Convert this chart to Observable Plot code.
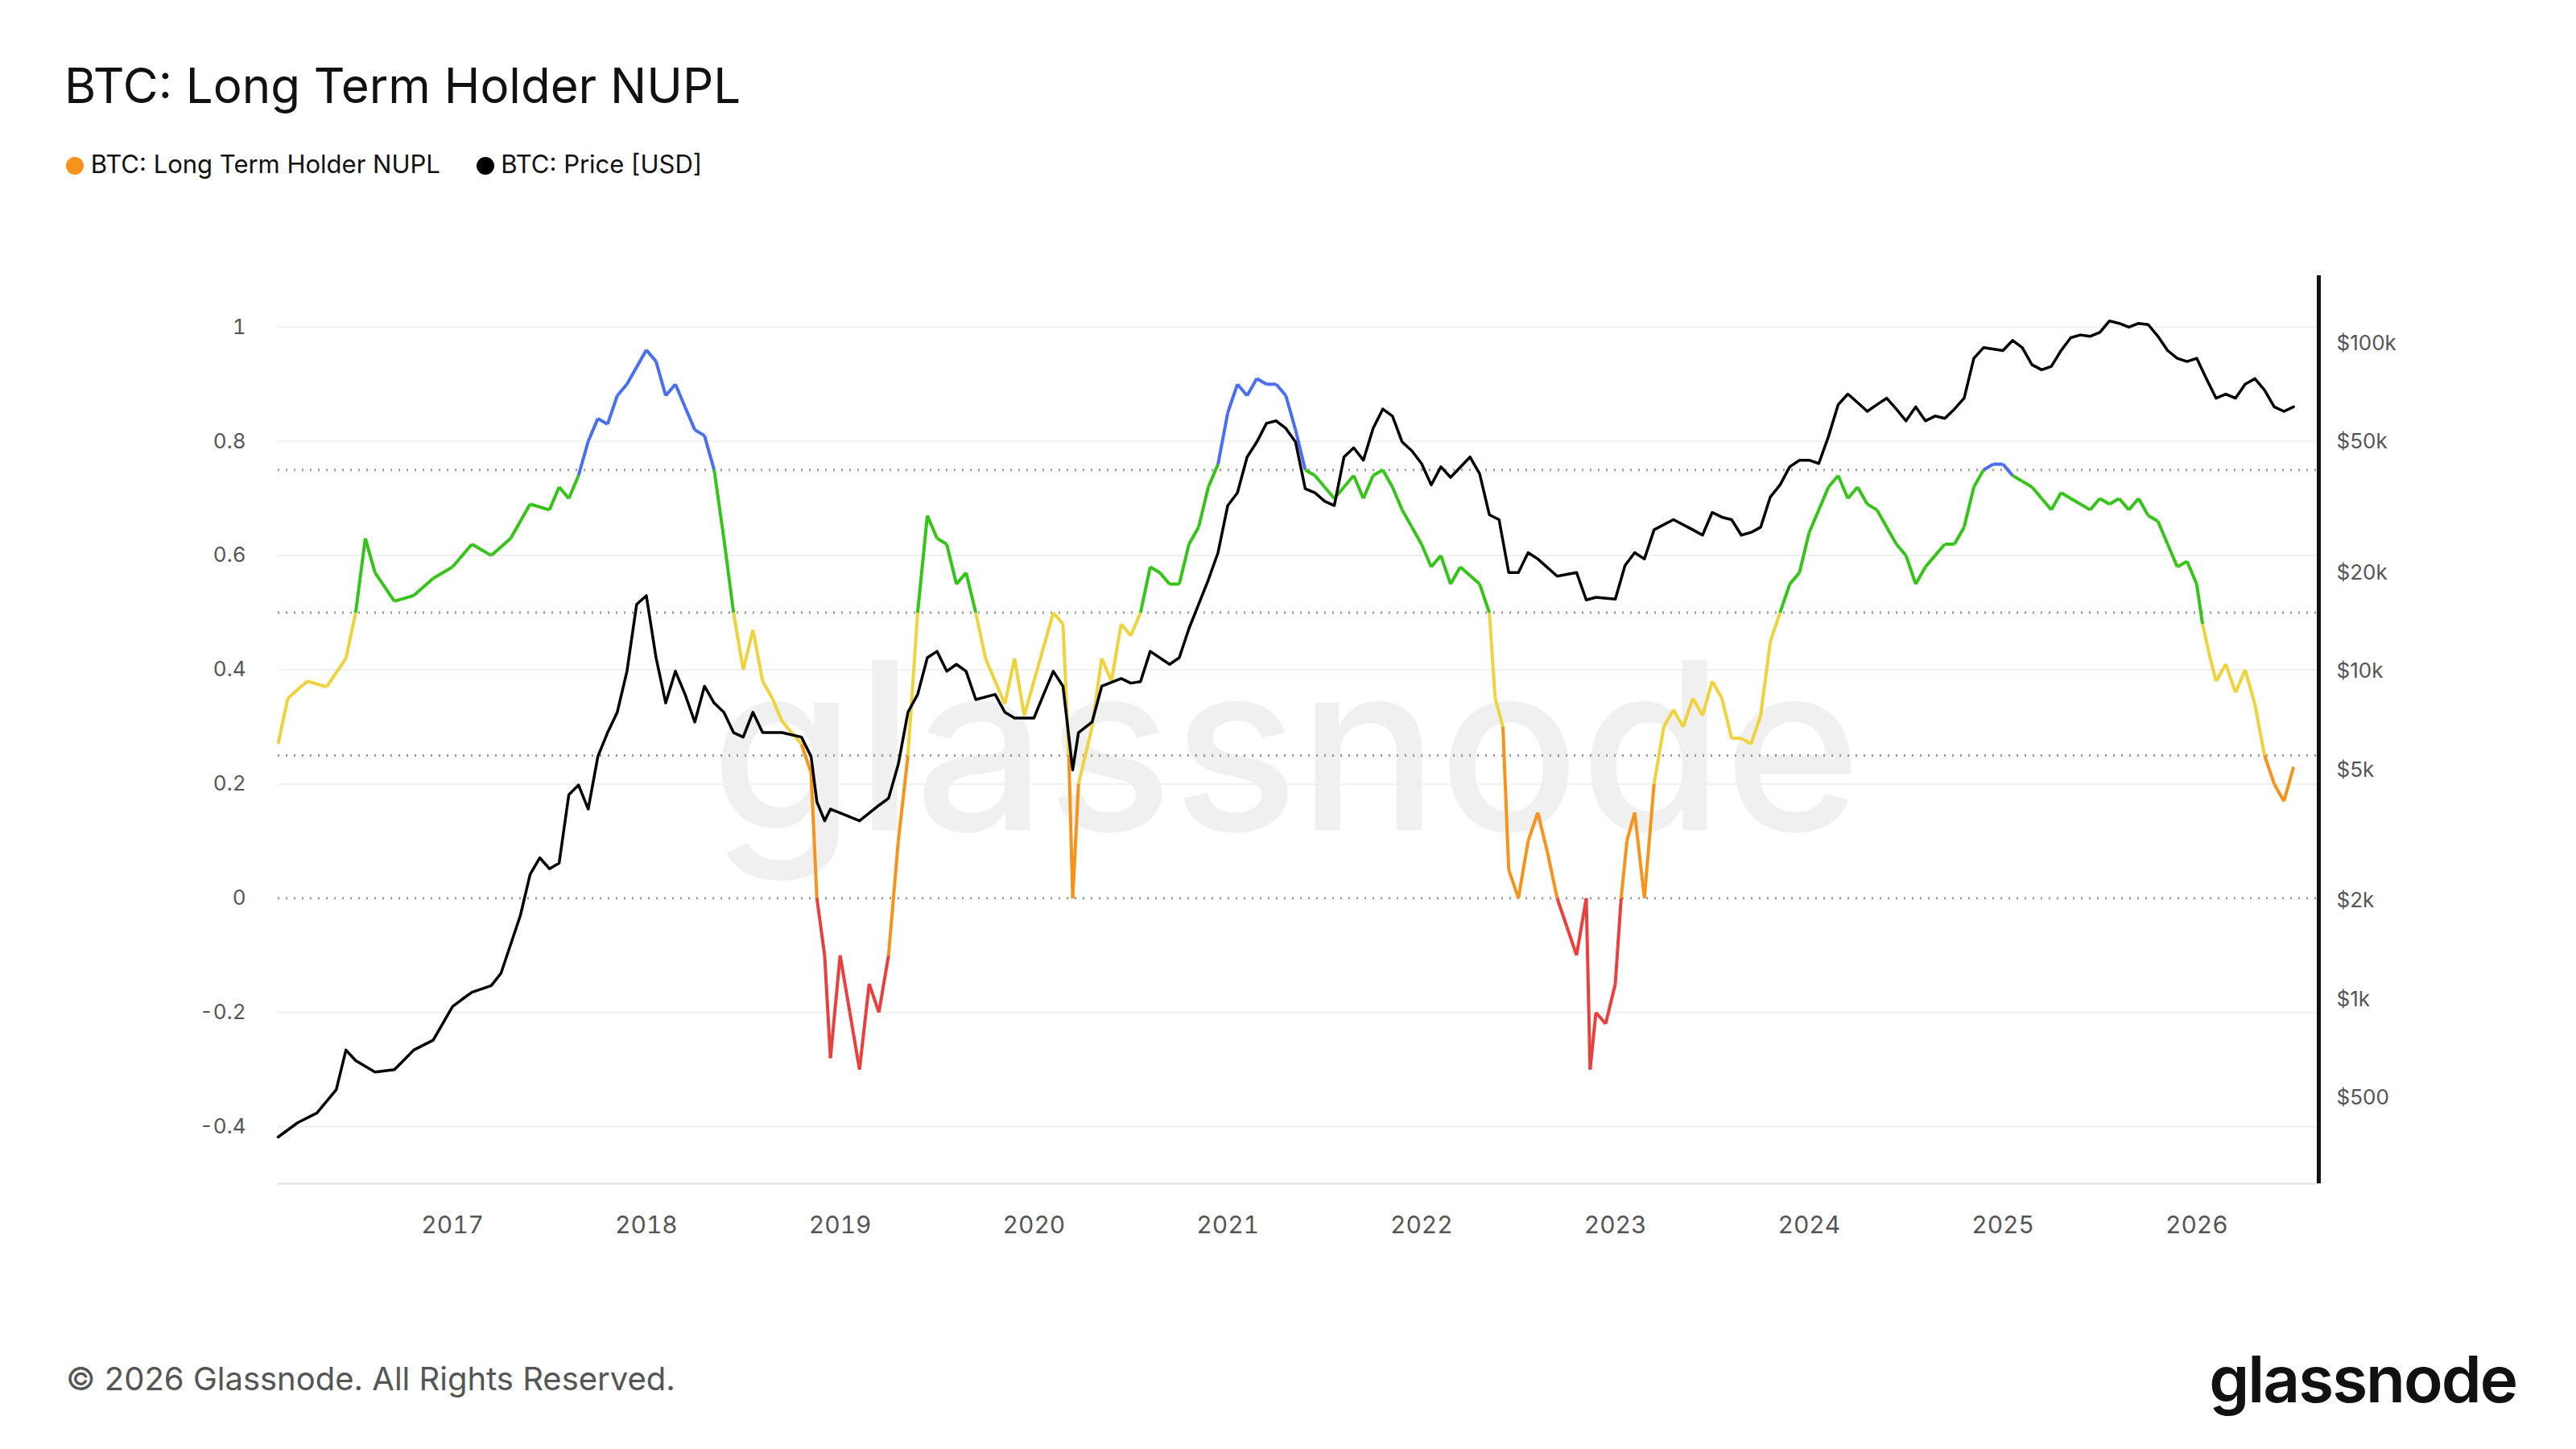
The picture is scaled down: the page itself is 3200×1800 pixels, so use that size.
<!DOCTYPE html>
<html><head><meta charset="utf-8">
<script src="https://cdn.jsdelivr.net/npm/d3@7"></script>
<script src="https://cdn.jsdelivr.net/npm/@observablehq/plot@0.6"></script>
<style>
body{margin:0;background:#fff;font-family:Inter,"Noto Sans",sans-serif;}
#wrap{position:relative;width:3200px;height:1800px;overflow:hidden}
.abs{position:absolute;white-space:nowrap}
svg{position:absolute;left:0;top:0}
</style></head><body><div id="wrap">
<div class="abs" style="left:80px;top:70px;font-size:60px;color:#111">BTC: Long Term Holder NUPL</div>
<div class="abs" style="left:82px;top:185px;font-size:31px;color:#111">
<span style="display:inline-block;width:22px;height:22px;border-radius:50%;background:#f7931a;vertical-align:-2px"></span> BTC: Long Term Holder NUPL
<span style="display:inline-block;width:22px;height:22px;border-radius:50%;background:#000;vertical-align:-2px;margin-left:36px"></span> BTC: Price [USD]</div>
<div class="abs" style="left:82px;top:1688px;font-size:40px;color:#555">© 2026 Glassnode. All Rights Reserved.</div>
<div class="abs" style="right:74px;top:1664px;font-size:80px;font-weight:600;color:#111;letter-spacing:-2px">glassnode</div>
</div>
<script>
const nuplT=[2016.1,2016.15,2016.25,2016.35,2016.45,2016.5,2016.55,2016.6,2016.7,2016.8,2016.9,2017.0,2017.1,2017.2,2017.3,2017.4,2017.5,2017.55,2017.6,2017.65,2017.7,2017.75,2017.8,2017.85,2017.9,2017.95,2018.0,2018.05,2018.1,2018.15,2018.2,2018.25,2018.3,2018.35,2018.4,2018.45,2018.5,2018.55,2018.6,2018.65,2018.7,2018.75,2018.8,2018.85,2018.88,2018.92,2018.95,2019.0,2019.05,2019.1,2019.15,2019.2,2019.25,2019.3,2019.35,2019.4,2019.45,2019.5,2019.55,2019.6,2019.65,2019.7,2019.75,2019.8,2019.85,2019.9,2019.95,2020.0,2020.1,2020.15,2020.18,2020.2,2020.23,2020.3,2020.35,2020.4,2020.45,2020.5,2020.55,2020.6,2020.65,2020.7,2020.75,2020.8,2020.85,2020.9,2020.95,2021.0,2021.05,2021.1,2021.15,2021.2,2021.25,2021.3,2021.35,2021.4,2021.45,2021.5,2021.55,2021.6,2021.65,2021.7,2021.75,2021.8,2021.85,2021.9,2021.95,2022.0,2022.05,2022.1,2022.15,2022.2,2022.3,2022.35,2022.38,2022.42,2022.45,2022.5,2022.55,2022.6,2022.65,2022.7,2022.75,2022.8,2022.85,2022.87,2022.9,2022.95,2023.0,2023.03,2023.06,2023.1,2023.15,2023.2,2023.25,2023.3,2023.35,2023.4,2023.45,2023.5,2023.55,2023.6,2023.65,2023.7,2023.75,2023.8,2023.85,2023.9,2023.95,2024.0,2024.05,2024.1,2024.15,2024.2,2024.25,2024.3,2024.35,2024.4,2024.45,2024.5,2024.55,2024.6,2024.65,2024.7,2024.75,2024.8,2024.85,2024.9,2024.95,2025.0,2025.05,2025.1,2025.15,2025.2,2025.25,2025.3,2025.35,2025.4,2025.45,2025.5,2025.55,2025.6,2025.65,2025.7,2025.75,2025.8,2025.85,2025.9,2025.95,2026.0,2026.03,2026.07,2026.1,2026.15,2026.2,2026.25,2026.3,2026.35,2026.4,2026.45,2026.5];
const nuplV=[0.27,0.35,0.38,0.37,0.42,0.5,0.63,0.57,0.52,0.53,0.56,0.58,0.62,0.6,0.63,0.69,0.68,0.72,0.7,0.74,0.8,0.84,0.83,0.88,0.9,0.93,0.96,0.94,0.88,0.9,0.86,0.82,0.81,0.75,0.63,0.5,0.4,0.47,0.38,0.35,0.31,0.29,0.27,0.22,0.0,-0.1,-0.28,-0.1,-0.2,-0.3,-0.15,-0.2,-0.1,0.1,0.25,0.5,0.67,0.63,0.62,0.55,0.57,0.5,0.42,0.38,0.34,0.42,0.32,0.38,0.5,0.48,0.25,0.0,0.2,0.3,0.42,0.38,0.48,0.46,0.5,0.58,0.57,0.55,0.55,0.62,0.65,0.72,0.76,0.85,0.9,0.88,0.91,0.9,0.9,0.88,0.82,0.75,0.74,0.72,0.7,0.72,0.74,0.7,0.74,0.75,0.72,0.68,0.65,0.62,0.58,0.6,0.55,0.58,0.55,0.5,0.35,0.3,0.05,0.0,0.1,0.15,0.08,0.0,-0.05,-0.1,0.0,-0.3,-0.2,-0.22,-0.15,0.0,0.1,0.15,0.0,0.2,0.3,0.33,0.3,0.35,0.32,0.38,0.35,0.28,0.28,0.27,0.32,0.45,0.5,0.55,0.57,0.64,0.68,0.72,0.74,0.7,0.72,0.69,0.68,0.65,0.62,0.6,0.55,0.58,0.6,0.62,0.62,0.65,0.72,0.75,0.76,0.76,0.74,0.73,0.72,0.7,0.68,0.71,0.7,0.69,0.68,0.7,0.69,0.7,0.68,0.7,0.67,0.66,0.62,0.58,0.59,0.55,0.48,0.42,0.38,0.41,0.36,0.4,0.34,0.25,0.2,0.17,0.23];
const priceT=[2016.1,2016.2,2016.3,2016.4,2016.45,2016.5,2016.6,2016.7,2016.8,2016.9,2017.0,2017.05,2017.1,2017.2,2017.25,2017.35,2017.4,2017.45,2017.5,2017.55,2017.6,2017.65,2017.7,2017.75,2017.8,2017.85,2017.9,2017.95,2018.0,2018.05,2018.1,2018.15,2018.2,2018.25,2018.3,2018.35,2018.4,2018.45,2018.5,2018.55,2018.6,2018.7,2018.8,2018.85,2018.88,2018.92,2018.95,2019.0,2019.1,2019.2,2019.25,2019.3,2019.35,2019.4,2019.45,2019.5,2019.55,2019.6,2019.65,2019.7,2019.8,2019.85,2019.9,2020.0,2020.05,2020.1,2020.15,2020.2,2020.23,2020.3,2020.35,2020.45,2020.5,2020.55,2020.6,2020.7,2020.75,2020.8,2020.85,2020.9,2020.95,2021.0,2021.05,2021.1,2021.15,2021.2,2021.25,2021.3,2021.35,2021.4,2021.45,2021.5,2021.55,2021.6,2021.65,2021.7,2021.75,2021.8,2021.85,2021.9,2021.95,2022.0,2022.05,2022.1,2022.15,2022.25,2022.3,2022.35,2022.4,2022.45,2022.5,2022.55,2022.6,2022.7,2022.8,2022.85,2022.9,2023.0,2023.05,2023.1,2023.15,2023.2,2023.25,2023.3,2023.4,2023.45,2023.5,2023.55,2023.6,2023.65,2023.7,2023.75,2023.8,2023.85,2023.9,2023.95,2024.0,2024.05,2024.1,2024.15,2024.2,2024.25,2024.3,2024.35,2024.4,2024.45,2024.5,2024.55,2024.6,2024.65,2024.7,2024.75,2024.8,2024.85,2024.9,2025.0,2025.05,2025.1,2025.15,2025.2,2025.25,2025.3,2025.35,2025.4,2025.45,2025.5,2025.55,2025.6,2025.65,2025.7,2025.75,2025.8,2025.85,2025.9,2025.95,2026.0,2026.05,2026.1,2026.15,2026.2,2026.25,2026.3,2026.35,2026.4,2026.45,2026.5];
const priceV=[380,420,450,530,700,650,600,610,700,750,950,1000,1050,1100,1200,1800,2400,2700,2500,2600,4200,4500,3800,5500,6500,7500,10000,16000,17000,11000,8000,10000,8500,7000,9000,8000,7500,6500,6300,7500,6500,6500,6300,5500,4000,3500,3800,3700,3500,3900,4100,5200,7500,8500,11000,11500,10000,10500,10000,8200,8500,7500,7200,7200,8500,10000,9000,5000,6500,7000,9000,9500,9200,9300,11500,10500,11000,13500,16000,19000,23000,32000,35000,45000,50000,57000,58000,55000,50000,36000,35000,33000,32000,45000,48000,44000,55000,63000,60000,50000,47000,43000,37000,42000,39000,45000,40000,30000,29000,20000,20000,23000,22000,19500,20000,16500,16800,16600,21000,23000,22000,27000,28000,29000,27000,26000,30500,29500,29000,26000,26500,27500,34000,37000,42000,44000,44000,43000,52000,65000,70000,66000,62000,65000,68000,63000,58000,64000,58000,60000,59000,63000,68000,90000,97000,95000,102000,97000,86000,83000,85000,95000,104000,106000,105000,108000,117000,115000,112000,115000,114000,105000,95000,90000,88000,90000,78000,68000,70000,68000,75000,78000,72000,64000,62000,64000];
const leftTicks=[-0.4,-0.2,0,0.2,0.4,0.6,0.8,1];
const bandLines=[0,0.25,0.5,0.75];
const priceTicks=[500,1000,2000,5000,10000,20000,50000,100000];
const priceLabels=["$500","$1k","$2k","$5k","$10k","$20k","$50k","$100k"];
const yearTicks=[2017,2018,2019,2020,2021,2022,2023,2024,2025,2026];

const p2y=p=>0.9717-(5-Math.log10(p))*0.5743;
const col=v=>v<0?"#e8403d":v<0.25?"#f7931a":v<0.5?"#f0d23c":v<0.75?"#36c41a":"#4a6ef0";
const segs=[];
for(let i=0;i<nuplT.length-1;i++)segs.push({x1:nuplT[i],y1:nuplV[i],x2:nuplT[i+1],y2:nuplV[i+1],c:col((nuplV[i]+nuplV[i+1])/2)});
const price=priceT.map((t,i)=>({t,y:p2y(priceV[i])}));
const pt=priceTicks.map((p,i)=>({y:p2y(p),l:priceLabels[i]}));

const chart=Plot.plot({
  width:3200,height:1800,marginTop:342,marginBottom:330,marginLeft:345,marginRight:320,
  style:{fontFamily:"Inter, sans-serif",background:"transparent"},
  x:{domain:[2016.1,2026.63]},
  y:{domain:[-0.5,1.09]},
  marks:[
    Plot.text(["glassnode"],{x:2021.3,y:0.25,text:d=>d,fontSize:290,fill:"#f0f0f0",fontWeight:500,textAnchor:"middle"}),
    Plot.ruleY(leftTicks.filter(v=>!bandLines.includes(v)),{stroke:"#f0f0f0",strokeWidth:2}),
    Plot.ruleY(bandLines,{stroke:"#999",strokeWidth:3,strokeDasharray:"2,8"}),
    Plot.ruleY([-0.5],{stroke:"#ddd",strokeWidth:2}),
    Plot.axisY(leftTicks,{tickSize:0,tickPadding:40,fontSize:26,fill:"#555",label:null,tickFormat:d=>String(d)}),
    Plot.axisX(yearTicks,{tickSize:0,tickPadding:40,fontSize:30,fill:"#555",label:null,tickFormat:d=>String(d)}),
    Plot.text(pt,{x:2026.63,y:"y",text:"l",dx:22,textAnchor:"start",fontSize:26,fill:"#555"}),
    Plot.ruleX([2026.63],{y1:-0.5,y2:1.09,stroke:"#111",strokeWidth:5}),
    Plot.link(segs,{x1:"x1",y1:"y1",x2:"x2",y2:"y2",stroke:"c",strokeWidth:4}),
    Plot.line(price,{x:"t",y:"y",stroke:"#000",strokeWidth:3.5})
  ]
});
document.getElementById("wrap").prepend(chart);
</script></body></html>
